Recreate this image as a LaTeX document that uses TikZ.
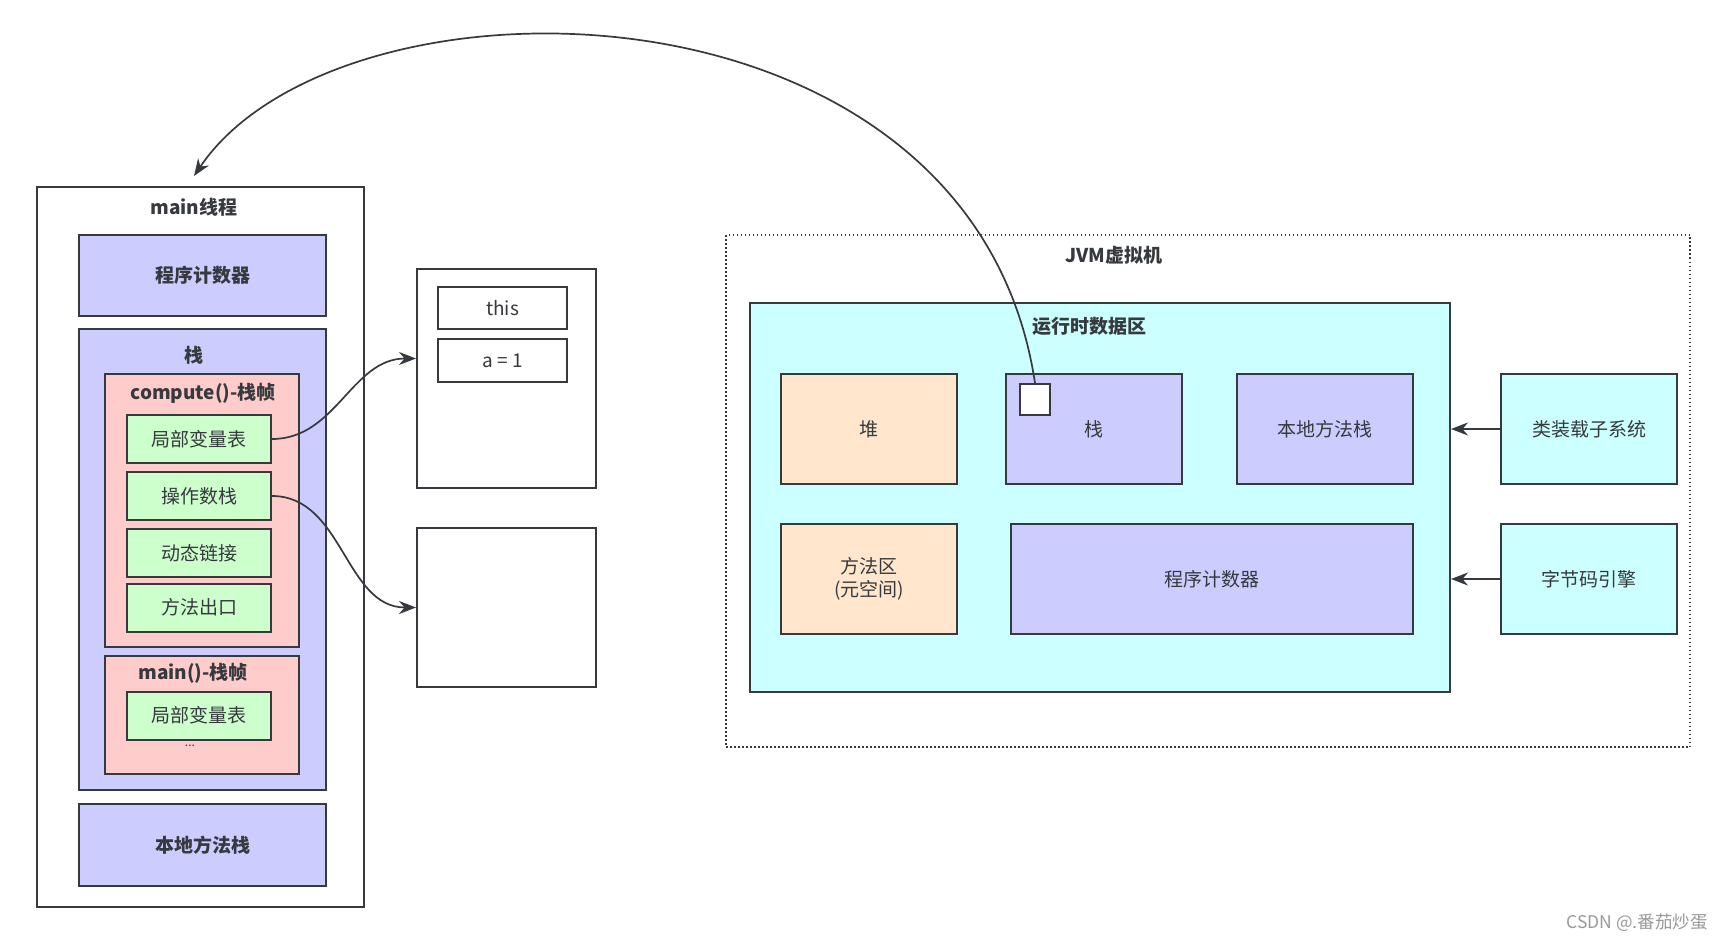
\documentclass[tikz,border=0pt]{standalone}
\usepackage{fontspec}
\setmainfont{Noto Sans CJK SC}
\usetikzlibrary{arrows.meta,positioning}

\definecolor{lineC}{HTML}{36393D}
\definecolor{blueF}{HTML}{CCCCFF}
\definecolor{pinkF}{HTML}{FFCCCC}
\definecolor{greenF}{HTML}{CCFFCC}
\definecolor{peachF}{HTML}{FFE6CC}
\definecolor{cyanF}{HTML}{CCFFFF}

\begin{document}
\begin{tikzpicture}[x=1pt,y=-1pt,
  font=\fontsize{19}{23}\selectfont,
  area/.style={draw=lineC,line width=2pt,inner sep=0pt,text=lineC},
  title/.style={font=\fontsize{19}{23}\selectfont\bfseries,text=lineC},
  slot/.style={area,fill=greenF,minimum width=144,minimum height=48},
  part/.style={area,minimum width=176,minimum height=110},
  link/.style={draw=lineC,line width=1.7pt,-{Stealth[length=17pt,width=13pt]}}]
\useasboundingbox (0,0) rectangle (1728,944);

% main thread
\node[area,minimum width=327,minimum height=720] (thread) at (200.5,547) {};
\node[title] (threadLbl) at (194,207) {main线程};
\node[area,fill=blueF,minimum width=247,minimum height=81,title] (pcL) at (202.5,275.5) {程序计数器};
\node[area,fill=blueF,minimum width=247,minimum height=461] (stackL) at (202.5,559.5) {};
\node[title] (stackLbl) at (194,355) {栈};
\node[area,fill=pinkF,minimum width=194,minimum height=273] (compute) at (202,510.5) {};
\node[title] (computeLbl) at (203,393) {compute()-栈帧};
\node[slot] (local1) at (199,439) {局部变量表};
\node[slot] (operand) at (199,496) {操作数栈};
\node[slot] (dynlink) at (199,553) {动态链接};
\node[slot] (exit) at (199,607.5) {方法出口};
\node[area,fill=pinkF,minimum width=194,minimum height=118] (mainF) at (202,715) {};
\node[title] (mainFLbl) at (193,673) {main()-栈帧};
\node[slot] (local2) at (199,715.5) {局部变量表};
\node[text=lineC,font=\fontsize{12}{14}\selectfont] (more) at (190,746) {...};
\node[area,fill=blueF,minimum width=247,minimum height=82,title] (nativeL) at (202.5,845) {本地方法栈};

% frame contents
\node[area,minimum width=179,minimum height=219] (varsA) at (506.5,378.5) {};
\node[area,minimum width=129,minimum height=42] (thisB) at (502.5,308) {this};
\node[area,minimum width=129,minimum height=43] (aB) at (502.5,360.5) {a = 1};
\node[area,minimum width=179,minimum height=159] (varsB) at (506.5,607.5) {};

\draw[link] (local1.east) to[out=0,in=180] ([yshift=20pt]varsA.west);
\draw[link] (operand.east) to[out=0,in=180] (varsB.west);

% JVM
\node[draw=lineC,line width=1.5pt,dash pattern=on 1.5pt off 2.5pt,minimum width=964,minimum height=512] (jvm) at (1208,491) {};
\node[title] (jvmLbl) at (1114,255) {JVM虚拟机};
\node[area,fill=cyanF,minimum width=700,minimum height=389] (rda) at (1100,497.5) {};
\node[title] (rdaLbl) at (1089,326) {运行时数据区};
\node[part,fill=peachF] (heap) at (869,429) {堆};
\node[part,fill=blueF] (stackR) at (1094,429) {栈};
\node[part,fill=blueF] (nativeR) at (1325,429) {本地方法栈};
\node[part,fill=peachF,align=center] (meta) at (869,579) {方法区\\(元空间)};
\node[part,fill=blueF,minimum width=402] (pcR) at (1212,579) {程序计数器};
\node[part,fill=cyanF] (loader) at (1589,429) {类装载子系统};
\node[part,fill=cyanF] (engine) at (1589,579) {字节码引擎};
\node[area,fill=white,minimum width=30,minimum height=31] (ref) at (1035,399.5) {};

\draw[link] (loader.west) -- (loader.west -| rda.east);
\draw[link] (engine.west) -- (engine.west -| rda.east);

\coordinate (tip) at (194,176);
\draw[link] (ref.north) .. controls (972,-34) and (340,-40) .. (tip);

\node[text=black!40,font=\fontsize{17.5}{20}\selectfont] (mark) at (1637,923) {CSDN @.番茄炒蛋};
\end{tikzpicture}
\end{document}
